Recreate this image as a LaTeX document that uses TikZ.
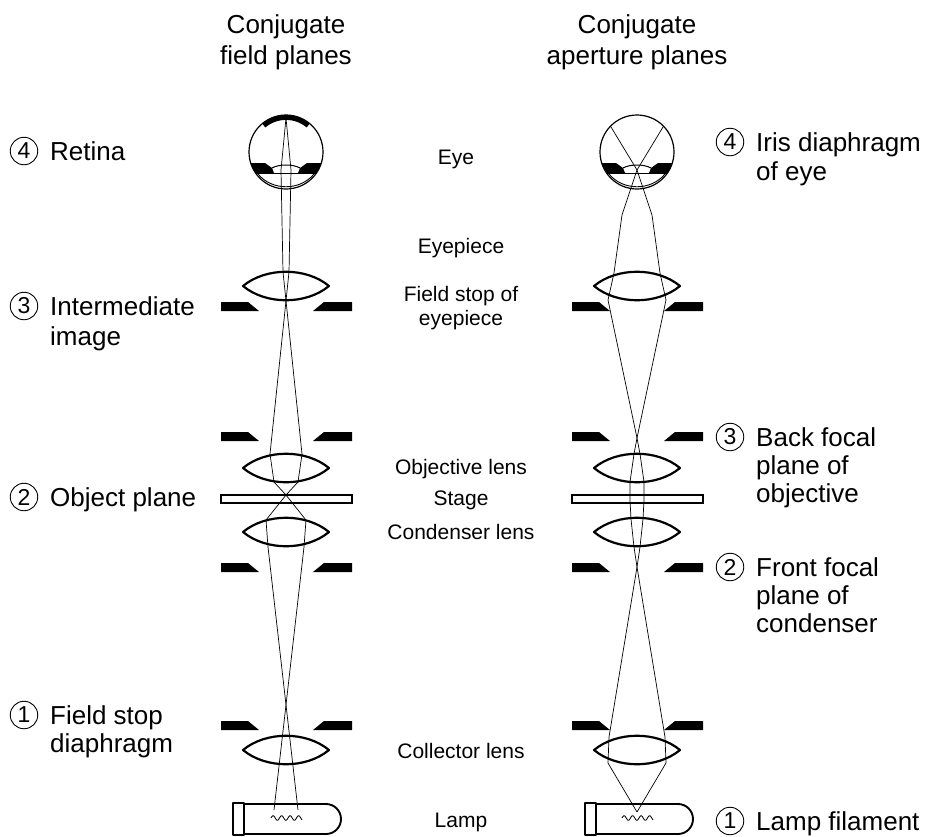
\documentclass[tikz,border=0pt]{standalone}
\usepackage{fontspec}
\setmainfont{Liberation Sans}
\newcommand\bigf{\fontsize{26}{30}\selectfont}
\newcommand\midf{\fontsize{21}{24}\selectfont}
\newcommand\numf{\fontsize{23}{23}\selectfont}
\newcommand\mylens[2]{\draw[lensline] ({#1-43},#2) .. controls ({#1-20},{#2-19}) and ({#1+20},{#2-19}) .. ({#1+43},#2) .. controls ({#1+20},{#2+19}) and ({#1-20},{#2+19}) .. cycle;}
\newcommand\mystop[2]{%
  \fill ({#1-65},#2) -- ({#1-38},#2) -- ({#1-27},{#2+9}) -- ({#1-65},{#2+9}) -- cycle;
  \fill ({#1+66},#2) -- ({#1+38},#2) -- ({#1+27},{#2+9}) -- ({#1+66},{#2+9}) -- cycle;}
\newcommand\myeye[2]{%
  \begin{scope}
    \clip (#1,#2) circle[radius=37];
    \fill ({#1-45},{#2+11}) -- ({#1-21},{#2+11}) -- ({#1-14},{#2+16}) -- ({#1-12},{#2+21}) -- ({#1-45},{#2+21}) -- cycle;
    \fill ({#1+45},{#2+11}) -- ({#1+21},{#2+11}) -- ({#1+14},{#2+16}) -- ({#1+12},{#2+21}) -- ({#1+45},{#2+21}) -- cycle;
    \draw[line width=1pt] ({#1-45},{#2+21}) -- ({#1+45},{#2+21});
  \end{scope}
  \draw[line width=1pt] ({#1-14},{#2+16}) .. controls ({#1-7},{#2+12}) and ({#1+7},{#2+12}) .. ({#1+14},{#2+16});
  \draw[line width=0.9pt] ({#1-28},{#2+22}) .. controls ({#1-14},{#2+39}) and ({#1+14},{#2+39}) .. ({#1+28},{#2+22});
  \draw[eyeline] (#1,#2) circle[radius=37];}
\newcommand\mylamp[2]{% #1 socket left x, #2 filament left x
  \draw[lampline] (#1,803) rectangle ({#1+11},835);
  \draw[lampline] ({#1+11},804) -- ({#1+93},804) arc[start angle=270, end angle=450, radius=15] -- ({#1+11},834);
  \draw[line width=0.8pt] plot[domain=0:31, samples=90] ({#2+\x},{818-2.3*sin(\x*360/8.5)});}
\begin{document}
\begin{tikzpicture}[x=1pt,y=-1pt,
  lensline/.style={line width=2.2pt, line join=round},
  eyeline/.style={line width=1.2pt},
  lampline/.style={line width=1.9pt, line join=round},
  ray/.style={line width=0.7pt, line join=round},
  stageline/.style={line width=1.1pt},
  lbl/.style={font=\bigf, anchor=base west, inner sep=0pt},
  ttl/.style={font=\bigf, anchor=base, inner sep=0pt},
  mid/.style={font=\midf, anchor=base, inner sep=0pt},
  num/.style={circle, draw, line width=0.9pt, inner sep=0pt, minimum size=27.5pt, font=\numf}]
\useasboundingbox (0,0) rectangle (929,836);

% titles
\node[ttl] (t1a) at (286,33) {Conjugate};
\node[ttl] (t1b) at (286,64) {field planes};
\node[ttl] (t2a) at (637,33) {Conjugate};
\node[ttl] (t2b) at (637,64) {aperture planes};

% ---------- left column (field planes) ----------
\myeye{286}{152}
\draw[line width=4.8pt] ([shift={(230:34.5)}]286,152) arc[start angle=230, end angle=310, radius=34.5];
\mylens{286}{286}
\mystop{286}{302}
\mystop{286}{432}
\mylens{286}{468}
\draw[stageline] (221,495) rectangle (352,503);
\mylens{286}{532}
\mystop{286}{563}
\mystop{286}{721}
\mylens{286}{750}
\mylamp{233}{271}

\draw[ray] (274,810) -- (304,547) -- (306,520) -- (286,495) -- (274,482) -- (270,454) -- (289,272) -- (291,170) -- (286,118);
\draw[ray] (298,810) -- (268,547) -- (266,520) -- (286,495) -- (298,482) -- (302,454) -- (283,272) -- (281,170) -- (286,118);

% ---------- right column (aperture planes) ----------
\myeye{637}{152}
\mylens{637}{286}
\mystop{637}{302}
\mystop{637}{432}
\mylens{637}{468}
\draw[stageline] (572,495) rectangle (703,503);
\mylens{637}{532}
\mystop{637}{563}
\mystop{637}{721}
\mylens{637}{750}
\mylamp{585}{622}

\draw[ray] (637,812) -- (666,763) -- (665,737) -- (637,567) -- (634,547) -- (631,519) -- (630,500) -- (630,482) -- (634,454) -- (637,438) -- (666,300) -- (660,273) -- (652,215) -- (637,170) -- (611,127);
\draw[ray] (637,812) -- (608,763) -- (609,737) -- (637,567) -- (640,547) -- (643,519) -- (644,500) -- (644,482) -- (640,454) -- (637,438) -- (608,300) -- (614,273) -- (622,215) -- (637,170) -- (663,127);

% ---------- middle labels ----------
\node[mid] (m1) at (456,164.5) {Eye};
\node[mid] (m2) at (461,253.5) {Eyepiece};
\node[mid] (m3) at (461,301.5) {Field stop of};
\node[mid] (m4) at (461,325) {eyepiece};
\node[mid] (m5) at (461,474.5) {Objective lens};
\node[mid] (m6) at (461,505.5) {Stage};
\node[mid] (m7) at (461,539.5) {Condenser lens};
\node[mid] (m8) at (461,758.5) {Collector lens};
\node[mid] (m9) at (461,827.5) {Lamp};

% ---------- left labels ----------
\node[num] (cl4) at (24,151) {4};
\node[lbl] (l4) at (50,160) {Retina};
\node[num] (cl3) at (24,306) {3};
\node[lbl] (l3a) at (50,315) {Intermediate};
\node[lbl] (l3b) at (50,345) {image};
\node[num] (cl2) at (24,497) {2};
\node[lbl] (l2) at (50,506) {Object plane};
\node[num] (cl1) at (24,715) {1};
\node[lbl] (l1a) at (50,724) {Field stop};
\node[lbl] (l1b) at (50,752) {diaphragm};

% ---------- right labels ----------
\node[num] (cr4) at (730,142) {4};
\node[lbl] (r4a) at (756,151) {Iris diaphragm};
\node[lbl] (r4b) at (756,180) {of eye};
\node[num] (cr3) at (730,437) {3};
\node[lbl] (r3a) at (756,446) {Back focal};
\node[lbl] (r3b) at (756,474) {plane of};
\node[lbl] (r3c) at (756,502) {objective};
\node[num] (cr2) at (730,567) {2};
\node[lbl] (r2a) at (756,576) {Front focal};
\node[lbl] (r2b) at (756,604) {plane of};
\node[lbl] (r2c) at (756,632) {condenser};
\node[num] (cr1) at (730,821) {1};
\node[lbl] (r1) at (756,830) {Lamp filament};
\end{tikzpicture}
\end{document}
